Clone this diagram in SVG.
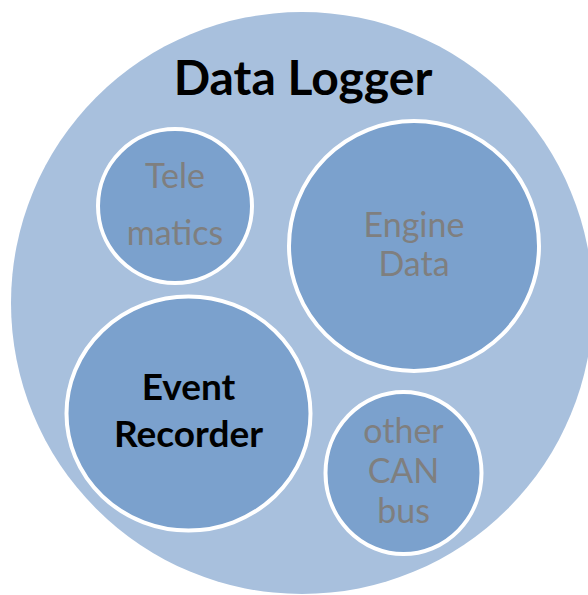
<svg xmlns="http://www.w3.org/2000/svg" width="588" height="595" viewBox="0 0 588 595">
<style>
.outer{fill:#A8C0DD}
.inner{fill:#7BA1CD;stroke:#FFFFFF;stroke-width:4}
.gray{font-family:Lato,"Open Sans","Liberation Sans",sans-serif;fill:#7F7F7F;text-anchor:middle;font-size:34px}
.dark{font-family:Lato,"Open Sans","Liberation Sans",sans-serif;fill:#000000;font-weight:bold;text-anchor:middle}
</style>
<g id="data-logger">
<circle class="outer" cx="302" cy="303" r="291"/>
<text class="dark" x="303" y="95" font-size="48">Data Logger</text>
</g>
<g id="telematics">
<circle class="inner" cx="175" cy="206" r="77"/>
<text class="gray" x="175" y="188">Tele</text>
<text class="gray" x="175" y="245">matics</text>
</g>
<g id="engine-data">
<circle class="inner" cx="414" cy="246" r="125"/>
<text class="gray" x="414" y="237">Engine</text>
<text class="gray" x="414" y="276">Data</text>
</g>
<g id="event-recorder">
<ellipse class="inner" cx="188.5" cy="413.5" rx="122" ry="117"/>
<text class="dark" x="188.5" y="400" font-size="37">Event</text>
<text class="dark" x="188.5" y="447" font-size="37">Recorder</text>
</g>
<g id="other-can-bus">
<ellipse class="inner" cx="403.5" cy="473" rx="78" ry="81"/>
<text class="gray" x="403.5" y="443">other</text>
<text class="gray" x="403.5" y="483">CAN</text>
<text class="gray" x="403.5" y="523">bus</text>
</g>
<g id="connectors"/>
</svg>
